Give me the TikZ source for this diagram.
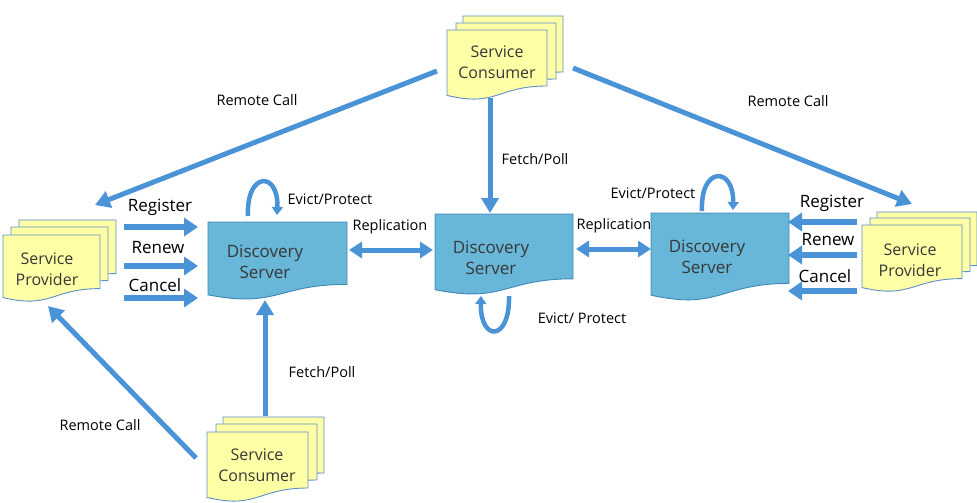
\documentclass[tikz,border=0pt]{standalone}
\usepackage{fontspec}
\setmainfont{Open Sans}
\usetikzlibrary{arrows.meta}
\definecolor{arrowblue}{HTML}{4A93D6}
\definecolor{srvblue}{HTML}{68B6D8}
\definecolor{srvborder}{HTML}{3F88B8}
\definecolor{docyellow}{HTML}{FFFFA6}
\definecolor{docborder}{HTML}{5B8FC9}
\definecolor{doctext}{HTML}{383838}
% document shape: top-left x, y, width, height, style
\newcommand{\docshape}[5]{%
  \path[#5] (#1,#2) -- (#1+#3,#2) -- (#1+#3,#2+0.80*#4)
    .. controls (#1+0.5*#3,#2+0.80*#4) and (#1+0.5*#3,#2+1.107*#4) ..
    (#1,#2+0.934*#4) -- cycle;}
\begin{document}
\begin{tikzpicture}[x=1pt,y=-1pt,
  yel/.style={fill=docyellow,draw=docborder,line width=0.9pt},
  srv/.style={fill=srvblue,draw=srvborder,line width=0.9pt},
  doctxt/.style={text=doctext,align=center,font=\fontsize{16}{21}\selectfont},
  srvtxt/.style={text=doctext,align=center,font=\fontsize{17}{21}\selectfont},
  lbl/.style={text=black,font=\fontsize{14.5}{17}\selectfont},
  biglbl/.style={text=black,font=\fontsize{17}{20}\selectfont},
  flow/.style={draw=arrowblue,line width=5pt,-{Triangle[length=15pt,width=17pt]}},
  flowb/.style={draw=arrowblue,line width=6pt,-{Triangle[length=14pt,width=18pt]}},
  repl/.style={draw=arrowblue,line width=5pt,{Triangle[length=13pt,width=16pt]}-{Triangle[length=13pt,width=16pt]}},
  loopar/.style={draw=arrowblue,line width=4.5pt,-{Triangle[length=8pt,width=11pt]}}]
\useasboundingbox (0,0) rectangle (977,503);
\clip (0,0) rectangle (977,503);

% ---------- Service Consumer (top)
\docshape{463}{16}{100}{70}{yel}
\docshape{456}{23}{100}{70}{yel}
\docshape{447}{30}{100}{70}{yel}
\node[doctxt] (tc) at (497,62) {Service\\Consumer};

% ---------- Service Provider (left)
\docshape{19}{220}{97}{67}{yel}
\docshape{11}{227}{97}{67}{yel}
\docshape{3}{235}{97}{67}{yel}
\node[doctxt] (lp) at (47,269) {Service\\Provider};

% ---------- Service Provider (right)
\docshape{877}{212}{100}{67}{yel}
\docshape{870}{218}{100}{67}{yel}
\docshape{862}{225}{100}{67}{yel}
\node[doctxt] (rp) at (910,260) {Service\\Provider};

% ---------- Service Consumer (bottom)
\docshape{223}{417}{101}{70}{yel}
\docshape{216}{424}{101}{70}{yel}
\docshape{207}{432}{101}{70}{yel}
\node[doctxt] (bc) at (257,465) {Service\\Consumer};

% ---------- Discovery Servers
\docshape{208}{222}{139}{78}{srv}
\node[srvtxt] (ls) at (265,262) {Discovery\\Server};
\docshape{435}{214}{138}{81}{srv}
\node[srvtxt] (ms) at (491,258) {Discovery\\Server};
\docshape{651}{213}{138}{88}{srv}
\node[srvtxt] (rs) at (707,257) {Discovery\\Server};

% ---------- connector end points
\coordinate (tcL) at (437,71);  \coordinate (lpT) at (95,205);
\coordinate (tcR) at (573,68);  \coordinate (rpT) at (912,204);
\coordinate (tcB) at (490,98);  \coordinate (msT) at (490,213);
\coordinate (bcT) at (265,416); \coordinate (lsB) at (265,300);
\coordinate (bcL) at (196,458); \coordinate (lpB) at (48,306);

\coordinate (lpR1) at (124,227); \coordinate (lsL1) at (198,227);
\coordinate (lpR2) at (124,266); \coordinate (lsL2) at (198,266);
\coordinate (lpR3) at (124,298); \coordinate (lsL3) at (198,298);
\coordinate (rpL1) at (857,222); \coordinate (rsR1) at (788,222);
\coordinate (rpL2) at (857,255); \coordinate (rsR2) at (788,255);
\coordinate (rpL3) at (857,291); \coordinate (rsR3) at (788,291);

\coordinate (lsR) at (349,250); \coordinate (msL) at (433,250);
\coordinate (msR) at (576,249); \coordinate (rsL) at (651,249);

% ---------- arrows
\draw[flow] (tcL) -- (lpT);
\draw[flow] (tcR) -- (rpT);
\draw[flow] (tcB) -- (msT);
\draw[flow] (bcT) -- (lsB);
\draw[flow] (bcL) -- (lpB);

\draw[flowb] (lpR1) -- (lsL1);
\draw[flowb] (lpR2) -- (lsL2);
\draw[flowb] (lpR3) -- (lsL3);
\draw[flowb] (rpL1) -- (rsR1);
\draw[flowb] (rpL2) -- (rsR2);
\draw[flowb] (rpL3) -- (rsR3);

\draw[repl] (lsR) -- (msL);
\draw[repl] (msR) -- (rsL);

% evict/protect loops
\coordinate (lsLoopA) at (248,216); \coordinate (lsLoopB) at (277,215);
\draw[loopar] (lsLoopA) .. controls (246,171) and (279,171) .. (lsLoopB);
\coordinate (rsLoopA) at (702,211); \coordinate (rsLoopB) at (733,210);
\draw[loopar] (rsLoopA) .. controls (700,166) and (734,166) .. (rsLoopB);
\coordinate (msLoopA) at (509,296); \coordinate (msLoopB) at (481,296);
\draw[loopar] (msLoopA) .. controls (510,342) and (480,342) .. (msLoopB);

% ---------- labels
\node[lbl] (l1) at (257,100) {Remote Call};
\node[lbl] (l2) at (788,101) {Remote Call};
\node[lbl] (l3) at (100,425) {Remote Call};
\node[lbl] (l4) at (535,159) {Fetch/Poll};
\node[lbl] (l5) at (322,372) {Fetch/Poll};
\node[lbl] (l6) at (330,199) {Evict/Protect};
\node[lbl] (l7) at (653,193) {Evict/Protect};
\node[lbl] (l8) at (582,318) {Evict/ Protect};
\node[lbl] (l9) at (390,227) {Replication};
\node[lbl] (l10) at (614,226) {Replication};

\node[biglbl] (r1) at (160,207) {Register};
\node[biglbl] (r2) at (158,248) {Renew};
\node[biglbl] (r3) at (155,285) {Cancel};
\node[biglbl] (r4) at (832,203) {Register};
\node[biglbl] (r5) at (828,240) {Renew};
\node[biglbl] (r6) at (825,276) {Cancel};
\end{tikzpicture}
\end{document}
